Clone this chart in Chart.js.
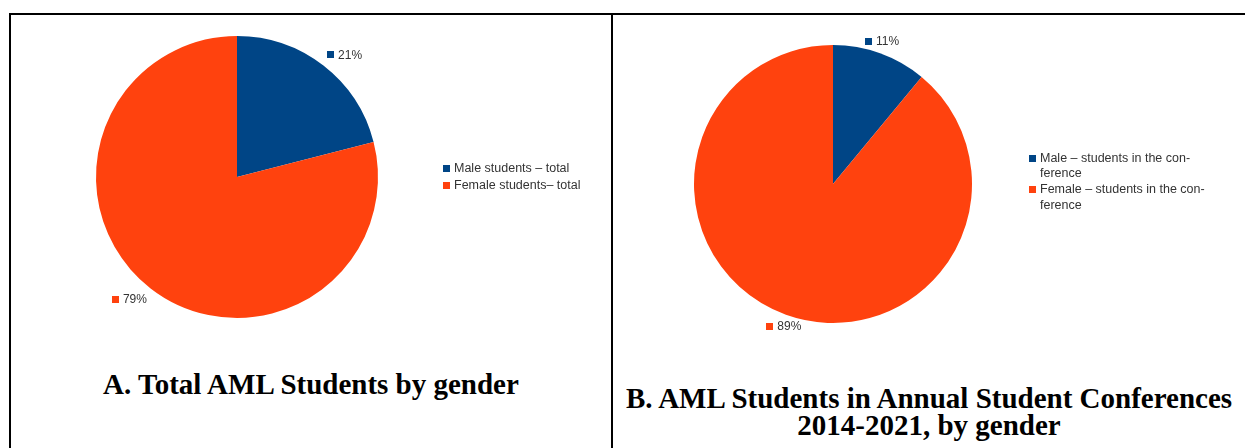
<!DOCTYPE html>
<html>
<head>
<meta charset="utf-8">
<script src="https://cdn.jsdelivr.net/npm/chart.js@4/dist/chart.umd.min.js"></script>
<style>
  html, body { margin: 0; padding: 0; background: #fff; }
  #page { position: relative; width: 1245px; height: 448px; overflow: hidden; }
  .rule { position: absolute; background: #000; }
  canvas { position: absolute; }
  .title {
    position: absolute; text-align: center; color: #000;
    font-family: "Liberation Serif", "Times New Roman", serif;
    font-weight: bold; font-size: 29px; line-height: 27px; white-space: nowrap;
  }
</style>
</head>
<body>
<div id="page">
  <div class="rule" style="left:9px;top:13px;width:1236px;height:2px;"></div>
  <div class="rule" style="left:9px;top:13px;width:2px;height:435px;"></div>
  <div class="rule" style="left:611px;top:13px;width:2px;height:435px;"></div>

  <canvas id="pieA" style="left:0;top:0;"></canvas>
  <canvas id="pieB" style="left:612px;top:0;"></canvas>

  <div class="title" id="titleA" style="left:11px;width:600px;top:371px;"></div>
  <div class="title" id="titleB" style="left:613px;width:632px;top:385px;"></div>
</div>
<script>
// Chart A: all AML students, by gender (percent)
const categoriesA = [['Male students \u2013 total'], ['Female students\u2013 total']];
const valuesA = [21, 79];
const titleA = 'A. Total AML Students by gender';

// Chart B: students presenting at the annual conferences 2014-2021 (percent)
const categoriesB = [['Male \u2013 students in the con-', 'ference'], ['Female \u2013 students in the con-', 'ference']];
const valuesB = [11, 89];
const titleB = ['B. AML Students in Annual Student Conferences', '2014-2021, by gender'];

const sliceColors = ['#004586', '#ff420e'];
const textColor = '#333333';
const sansFont = '"Liberation Sans", Arial, sans-serif';

document.getElementById('titleA').textContent = titleA;
document.getElementById('titleB').innerHTML = titleB.map(t => t.replace(/&/g, '&amp;')).join('<br>');

// Percentage labels outside each slice, anchored by octant like office charts do
const sliceLabels = {
  id: 'sliceLabels',
  afterDatasetsDraw(chart, args, opts) {
    const ctx = chart.ctx;
    const meta = chart.getDatasetMeta(0);
    const data = chart.data.datasets[0].data;
    const colors = chart.data.datasets[0].backgroundColor;
    ctx.save();
    ctx.font = '12px ' + sansFont;
    ctx.textBaseline = 'middle';
    meta.data.forEach((arc, i) => {
      const p = arc.getProps(['x', 'y', 'startAngle', 'endAngle', 'outerRadius'], true);
      const mid = (p.startAngle + p.endAngle) / 2;
      const r = p.outerRadius + opts.gap;
      const px = p.x + Math.cos(mid) * r;
      const py = p.y + Math.sin(mid) * r;
      let deg = (mid * 180 / Math.PI + 90) % 360;
      if (deg < 0) deg += 360;
      const oct = Math.round(deg / 45) % 8;
      const text = data[i] + '%';
      const box = 7, pad = 4, h = 12;
      const w = box + pad + ctx.measureText(text).width;
      let left;
      if (oct >= 1 && oct <= 3) left = px;
      else if (oct >= 5 && oct <= 7) left = px - w;
      else left = px - w / 2;
      let cy;
      if (oct === 7 || oct === 0 || oct === 1) cy = py - h / 2;
      else if (oct >= 3 && oct <= 5) cy = py + h / 2;
      else cy = py;
      ctx.fillStyle = colors[i];
      ctx.fillRect(Math.round(left), Math.round(cy - box / 2), box, box);
      ctx.fillStyle = textColor;
      ctx.textAlign = 'left';
      ctx.fillText(text, left + box + pad, cy + 0.5);
    });
    ctx.restore();
  }
};

// Legend to the right of the pie, with multi-line entries
const sideLegend = {
  id: 'sideLegend',
  afterDraw(chart, args, opts) {
    const ctx = chart.ctx;
    const labels = chart.data.labels;
    const colors = chart.data.datasets[0].backgroundColor;
    ctx.save();
    ctx.font = '12.5px ' + sansFont;
    ctx.textBaseline = 'middle';
    ctx.textAlign = 'left';
    let y = opts.y;
    labels.forEach((lines, i) => {
      ctx.fillStyle = colors[i];
      ctx.fillRect(opts.x, Math.round(y - 3.5), 7, 7);
      ctx.fillStyle = textColor;
      lines.forEach((line, j) => {
        ctx.fillText(line, opts.x + 11, y + j * opts.lineHeight + 0.5);
      });
      y += (lines.length - 1) * opts.lineHeight + opts.itemStep;
    });
    ctx.restore();
  }
};

function makePie(id, width, height, labels, values, padding, legendOpts) {
  const canvas = document.getElementById(id);
  canvas.style.width = width + 'px';
  canvas.style.height = height + 'px';
  canvas.width = width;
  canvas.height = height;
  return new Chart(canvas, {
    type: 'pie',
    data: {
      labels: labels,
      datasets: [{
        data: values,
        backgroundColor: sliceColors,
        borderWidth: 0,
        hoverBorderWidth: 0,
        hoverOffset: 0
      }]
    },
    options: {
      responsive: false,
      animation: false,
      events: [],
      layout: { padding: padding },
      plugins: {
        legend: { display: false },
        tooltip: { enabled: false },
        title: { display: false },
        sliceLabels: { gap: 6 },
        sideLegend: legendOpts
      }
    },
    plugins: [sliceLabels, sideLegend]
  });
}

makePie('pieA', 612, 340, categoriesA, valuesA,
  { left: 96, right: 234, top: 36, bottom: 22 },
  { x: 443, y: 168, lineHeight: 15.5, itemStep: 17 });

makePie('pieB', 633, 345, categoriesB, valuesB,
  { left: 82, right: 273, top: 45, bottom: 22 },
  { x: 417, y: 158, lineHeight: 15.5, itemStep: 16 });
</script>
</body>
</html>
